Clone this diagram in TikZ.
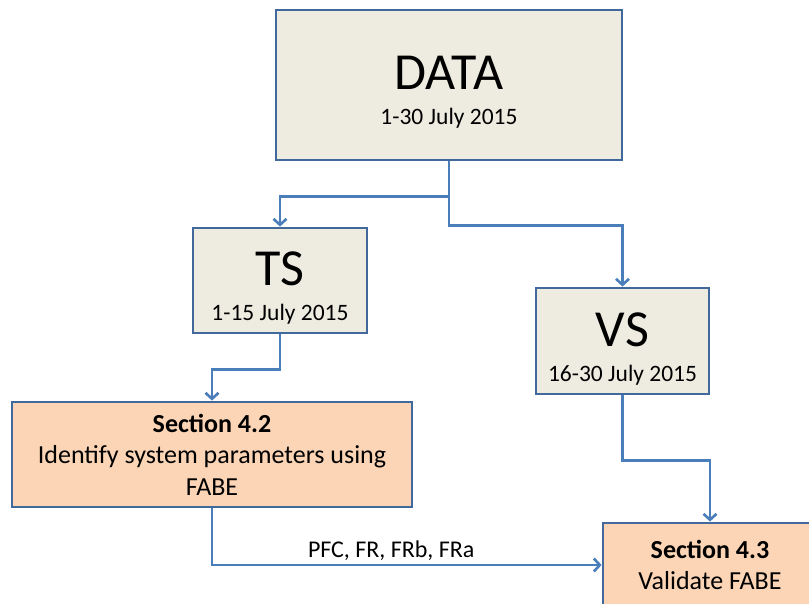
\documentclass[tikz,border=0pt]{standalone}
\usepackage{fontspec}
\setmainfont{Carlito}
\usetikzlibrary{arrows.meta}
\definecolor{FlowBlue}{HTML}{4A7EBB}
\definecolor{FlowEdge}{HTML}{41699C}
\definecolor{FlowGrey}{HTML}{EEECE1}
\definecolor{FlowPeach}{HTML}{FBD5B5}
\newcommand{\bigtag}[1]{{\fontsize{52}{52}\selectfont #1}}

\begin{document}
\begin{tikzpicture}[x=1pt,y=-1pt,>={Straight Barb[length=6pt,width=13pt]},
 setbox/.style={draw=FlowEdge,line width=2.8pt,fill=FlowGrey,inner sep=0pt,align=center,text height=80pt,text depth=0pt,font=\fontsize{23.5}{35}\selectfont},
 secbox/.style={draw=FlowEdge,line width=2.8pt,fill=FlowPeach,inner sep=0pt,align=center,font=\fontsize{26}{31.5}\selectfont},
 link/.style={->,draw=FlowBlue,line width=2.6pt}]
\useasboundingbox (0,0) rectangle (809,604);
\clip (0,0) rectangle (809,604);
\node[setbox,minimum width=346pt,minimum height=150pt] (data) at (449,85) {\bigtag{DATA}\\1-30 July 2015};
\node[setbox,minimum width=174pt,minimum height=105pt] (ts) at (280,280.5) {\bigtag{TS}\\1-15 July 2015};
\node[setbox,minimum width=173pt,minimum height=106pt] (vs) at (622.5,341) {\bigtag{VS}\\16-30 July 2015};
\node[secbox,minimum width=400pt,minimum height=105pt] (s42) at (212,454.5) {\textbf{Section 4.2}\\Identify system parameters using\\FABE};
\node[secbox,minimum width=214pt,minimum height=84pt] (s43) at (710,565) {\textbf{Section 4.3}\\Validate FABE};
\draw[link] (data.south) -- ++(0,35) -| (ts.north);
\draw[link] (data.south) -- ++(0,64) -| (vs.north);
\draw[link] (ts.south) -- ++(0,35) -| (s42.north);
\draw[link] (vs.south) -- ++(0,65) -| (s43.north);
\draw[link] (s42.south) |- node[pos=0.73,above,inner sep=3pt,text=black,font=\fontsize{24}{28}\selectfont] {PFC, FR, FRb, FRa} (s43.west);
\end{tikzpicture}
\end{document}
